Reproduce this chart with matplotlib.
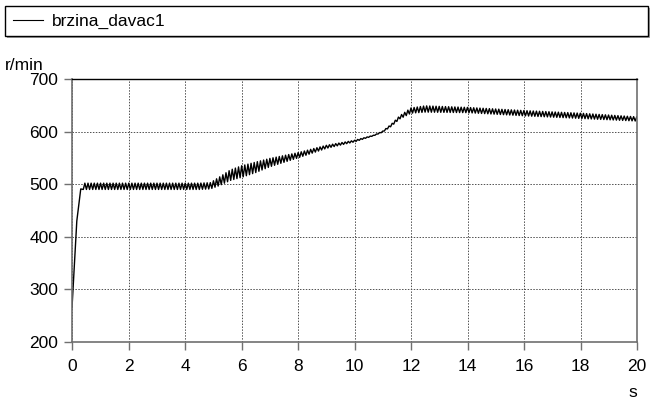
import numpy as np
import matplotlib.pyplot as plt
from matplotlib.patches import Rectangle

plt.rcParams['font.family'] = ['Liberation Sans', 'DejaVu Sans']

# envelope of the speed trace (time, mean speed, ripple half-height)
t_knots = [0, 0.17, 0.31, 0.4, 2, 4.5, 4.9, 5.2, 5.6, 6.0, 6.5, 7, 8, 9, 10, 10.7,
           11, 11.3, 11.6, 12, 12.5, 14, 16, 18, 20]
speed_mean = [265, 430, 491, 496, 496, 496, 497, 505, 517, 524, 532, 541, 555, 571, 582, 593,
              600, 612, 627, 640, 643, 641, 635, 630, 624]
ripple_amp = [0, 0, 0, 6, 6, 6, 6, 8, 10, 11, 10, 8, 5, 3, 1.5, 0.5,
              1, 2, 3, 5, 6, 5, 5, 5, 4]
ripple_period = 0.111  # s

xticks = [0, 2, 4, 6, 8, 10, 12, 14, 16, 18, 20]
yticks = [200, 300, 400, 500, 600, 700]

# trace: rise, then zig-zag between the upper and lower envelope
t = np.concatenate([np.array(t_knots[:3]), np.arange(0.4, 20.0001, ripple_period / 2)])
mean = np.interp(t, t_knots, speed_mean)
amp = np.interp(t, t_knots, ripple_amp)
sign = np.where(np.arange(len(t)) % 2 == 0, 1.0, -1.0)
sign[:3] = 0
y = mean + sign * amp

fig = plt.figure(figsize=(6.5, 3.99), dpi=100)
ax = fig.add_axes([72/650, 1 - 342/399, 565/650, 263/399])
ax.plot(t, y, color='black', lw=1.0)

ax.set_xlim(0, 20)
ax.set_ylim(200, 700)
ax.set_xticks(xticks)
ax.set_yticks(yticks)
ax.tick_params(labelsize=12.5, length=6, width=1, color='#707070')
ax.tick_params(axis='x', pad=6)
ax.tick_params(axis='y', pad=4)
ax.grid(True, color='#505050', linestyle=(0, (1.5, 1.5)), lw=0.7)
for side in ['left', 'bottom', 'right']:
    ax.spines[side].set_color('#707070')
    ax.spines[side].set_linewidth(1.2)
ax.spines['top'].set_color('black')
ax.spines['top'].set_linewidth(1.0)

fig.text(5/650, 1 - 66/399, 'r/min', fontsize=12.5, va='center', ha='left')
fig.text(632.5/650, 1 - 397/399, 's', fontsize=12.5, va='baseline', ha='center')

# legend box
fig.patches.append(Rectangle((7/650, 1 - 38/399), 643/650, 30/399, transform=fig.transFigure,
                             facecolor='#a0a0a0', edgecolor='none', zorder=0))
fig.patches.append(Rectangle((5/650, 1 - 36/399), 643/650, 30/399, transform=fig.transFigure,
                             facecolor='white', edgecolor='black', lw=1.0, zorder=1))
fig.lines.append(plt.Line2D([13/650, 43/650], [1 - 20/399, 1 - 20/399], transform=fig.transFigure,
                            color='black', lw=0.8))
fig.text(52/650, 1 - 21/399, 'brzina_davac1', fontsize=12.5, va='center', ha='left')

fig.savefig('out.png', dpi=100)
